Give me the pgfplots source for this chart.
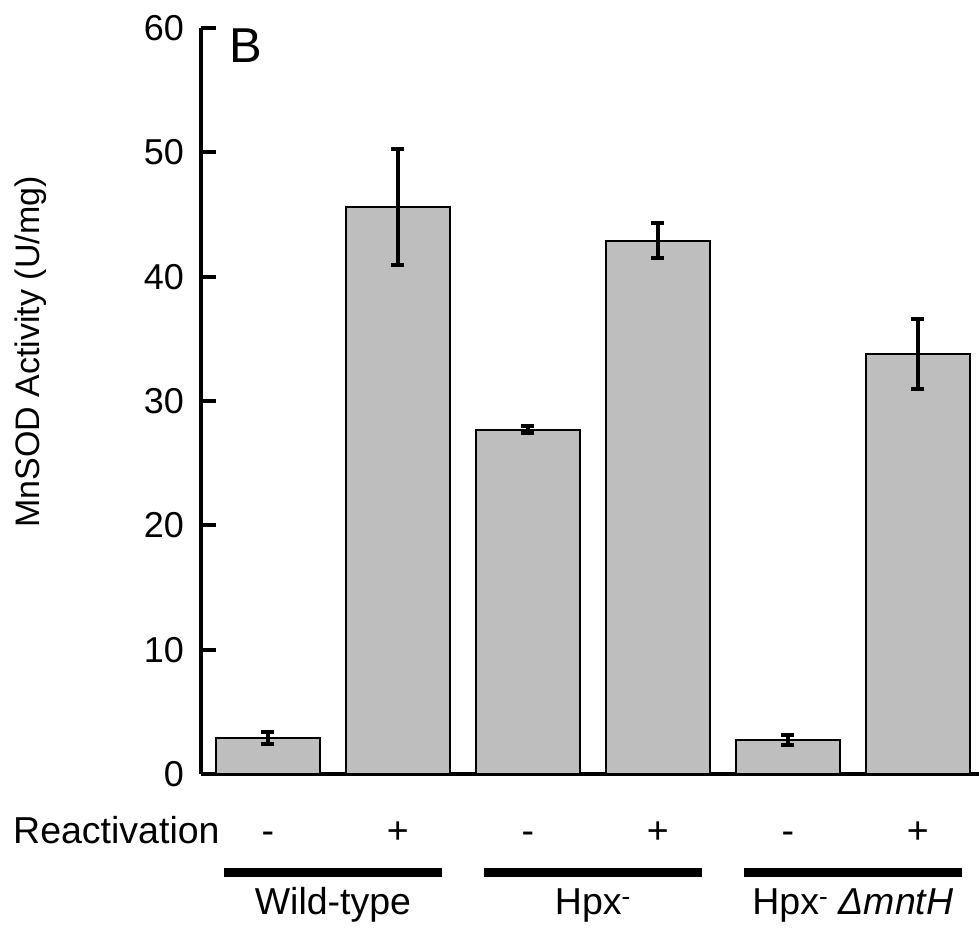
\documentclass[border=0pt]{standalone}
\usepackage{pgfplots}
\pgfplotsset{compat=1.18}
\usepackage{pgfplotstable}
\usepackage{fontspec}
\setmainfont{Liberation Sans}
\definecolor{barfill}{HTML}{BEBEBE}

% MnSOD activity (U/mg): mean and error for each strain, without (-) and with (+) reactivation
\pgfplotstableread{
x y err
0 2.9 0.5
1 45.6 4.7
2 27.7 0.25
3 42.9 1.4
4 2.75 0.4
5 33.8 2.8
}\sodtable

\newcommand{\labfont}{\fontsize{37.5}{37.5}\selectfont}

\begin{document}
\begin{tikzpicture}[x=1pt,y=1pt]
\useasboundingbox (0,0) rectangle (979,929);
\begin{axis}[
  at={(201pt,155pt)}, anchor=south west,
  scale only axis, width=778pt, height=746pt,
  xmin=-0.515, xmax=5.47, ymin=0, ymax=60,
  axis x line*=bottom, axis y line*=left,
  axis line style={line width=4.5pt, black},
  ytick={0,10,...,60},
  xtick=\empty,
  tick align=inside,
  major tick length=15pt,
  ytick style={line width=4pt, black},
  /pgf/number format/assume math mode=true,
  yticklabel style={font=\fontsize{36}{36}\selectfont, anchor=east, inner sep=0pt, xshift=-17pt},
  clip=false,
]
\addplot[ybar, bar width=104pt, fill=barfill, draw=black, line width=2pt,
  error bars/.cd, y dir=both, y explicit,
  error bar style={line width=4pt, black},
  error mark options={rotate=90, mark size=6.5pt, line width=4pt, black}]
  table[x=x, y=y, y error=err] {\sodtable};

% reactivation signs and strain group bars
\pgfplotsinvokeforeach{0,2,4}{
  \node[anchor=base, font=\labfont] at (axis cs:#1,-5.55) {-};
  \node[anchor=base, font=\labfont] at (axis cs:#1+1,-5.55) {+};
  \draw[line width=9pt] (axis cs:#1-0.34,-7.96) -- (axis cs:#1+1.34,-7.96);
}
\node[anchor=base east, font=\labfont] at (axis cs:-0.345,-5.55) {Reactivation};

% strain names
\node[anchor=base, font=\labfont] at (axis cs:0.5,-11.34) {Wild-type};
\node[anchor=base, font=\labfont] at (axis cs:2.5,-11.34) {Hpx\textsuperscript{-}};
\node[anchor=base, font=\labfont] at (axis cs:4.5,-11.34) {Hpx\textsuperscript{-} \textit{ΔmntH}};
\end{axis}
\node[rotate=90, anchor=base, font=\fontsize{34}{34}\selectfont] at (39,577) {MnSOD Activity (U/mg)};
\node[anchor=base west, font=\fontsize{49}{49}\selectfont] at (226,866) {B};
\end{tikzpicture}
\end{document}
